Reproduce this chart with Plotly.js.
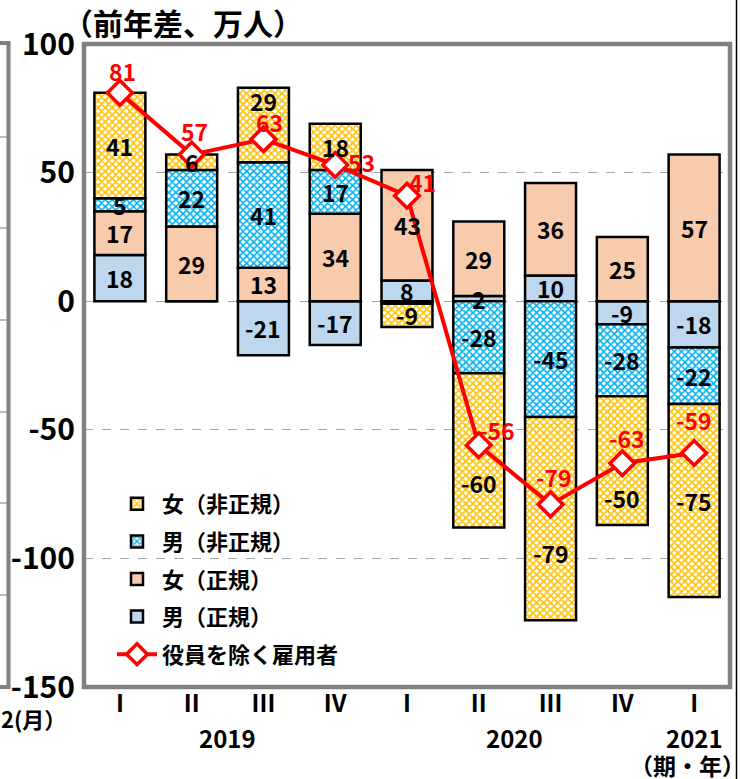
<!DOCTYPE html>
<html>
<head>
<meta charset="utf-8">
<script src="https://cdn.plot.ly/plotly-3.0.1.min.js"></script>
<style>
  html, body { margin: 0; padding: 0; background: #ffffff; }
  #chart { width: 740px; height: 779px; }
</style>
</head>
<body>
<div id="chart"></div>
<script>
// ---- data ----
const quarters = ['I', 'II', 'III', 'IV', 'I', 'II', 'III', 'IV', 'I'];
const yearOf   = ['2019', '2019', '2019', '2019', '2020', '2020', '2020', '2020', '2021'];
const maleRegular      = [18, 0, -21, -17, 8, 2, 10, -9, -18];
const femaleRegular    = [17, 29, 13, 34, 43, 29, 36, 25, 57];
const maleNonRegular   = [5, 22, 41, 17, -1, -28, -45, -28, -22];
const femaleNonRegular = [41, 6, 29, 18, -9, -60, -79, -50, -75];
const employees        = [81, 57, 63, 53, 41, -56, -79, -63, -59];
const yTickVals   = [-150, -100, -50, 0, 50, 100];
const yTickLabels = ['-150', '-100', '-50', '0', '50', '100'];

// ---- style / layout helpers ----
const FONT = "'Noto Sans CJK JP', 'Noto Sans', sans-serif";
const W = 740, H = 779, L = 84, R = 10, T = 44, B = 92;
const PW = W - L - R, PH = H - T - B;
const px = v => (v - L) / PW;
const py = v => (H - B - v) / PH;

// pixel nudges of labels (as in the reference, labels moved off the line)
const barLabelShift = { 3: { 2: 24, 5: -33, 6: -34, 7: -37 } };     // series index -> {point: yshift}
const lineLabelShift = [[3, 22], [3, 24], [6, 17], [26, 3], [15, 14], [18, 15], [3, 27], [5, 25], [0, 33]];

const xs = quarters.map((_, i) => i);
const series = [
  { name: '男（正規）',   vals: maleRegular,      color: '#BDD7EE', rank: 4 },
  { name: '女（正規）',   vals: femaleRegular,    color: '#F8CBAD', rank: 3 },
  { name: '男（非正規）', vals: maleNonRegular,   color: '#FFFFFF', rank: 2, pattern: '#00B0F0' },
  { name: '女（非正規）', vals: femaleNonRegular, color: '#FFFFFF', rank: 1, pattern: '#FFC000' }
];

const traces = series.map(s => {
  const t = {
    type: 'bar', name: s.name, x: xs, y: s.vals, textposition: 'none',
    marker: { color: s.color, line: { color: '#000000', width: 2.5 } },
    legendrank: s.rank, legendgroup: s.name, hoverinfo: 'skip'
  };
  if (s.pattern) {
    t.marker.pattern = { shape: 'x', fgcolor: s.pattern, bgcolor: '#FFFFFF', size: 5, solidity: 0.55, fillmode: 'replace' };
  }
  return t;
});
traces.push({
  type: 'scatter', mode: 'lines+markers', name: '役員を除く雇用者',
  x: xs, y: employees,
  line: { color: '#FF0000', width: 4 },
  marker: { symbol: 'diamond', size: 19, color: '#FFFFFF', line: { color: '#FF0000', width: 3.5 } },
  legendrank: 5, legendgroup: 'line', hoverinfo: 'skip', cliponaxis: false
});

const annotations = [];
// bar segment labels at the centre of each stacked segment (relative stacking)
const posBase = xs.map(() => 0), negBase = xs.map(() => 0);
series.forEach((s, si) => {
  s.vals.forEach((v, i) => {
    let c;
    if (v >= 0) { c = posBase[i] + v / 2; posBase[i] += v; }
    else { c = negBase[i] + v / 2; negBase[i] += v; }
    if (Math.abs(v) < 2) return;
    const sh = (barLabelShift[si] && barLabelShift[si][i]) || 0;
    annotations.push({ x: i, xref: 'x', y: c, yref: 'y', text: String(v), showarrow: false,
      xanchor: 'center', yanchor: 'middle', yshift: sh,
      font: { family: FONT, size: 23, color: '#000000', weight: 'bold' } });
  });
});
// line labels
employees.forEach((v, i) => {
  annotations.push({ x: i, xref: 'x', y: v, yref: 'y', text: String(v), showarrow: false,
    xanchor: 'center', yanchor: 'middle', xshift: lineLabelShift[i][0], yshift: lineLabelShift[i][1],
    font: { family: FONT, size: 23, color: '#FF0000', weight: 'bold' } });
});
// year labels centred on their quarters
[...new Set(yearOf)].forEach(yr => {
  const idx = xs.filter(i => yearOf[i] === yr);
  const c = idx.reduce((a, b) => a + b, 0) / idx.length;
  annotations.push({ x: c, xref: 'x', y: py(737), yref: 'paper', text: yr, showarrow: false,
    xanchor: 'center', yanchor: 'middle', font: { family: FONT, size: 24, color: '#000000', weight: 'bold' } });
});
annotations.push({ x: px(687), xref: 'paper', y: py(765), yref: 'paper', text: '（期・年）',
  showarrow: false, xanchor: 'center', yanchor: 'middle', font: { family: FONT, size: 23, color: '#000000', weight: 'bold' } });
annotations.push({ x: px(68), xref: 'paper', y: py(718), yref: 'paper', text: '2(月）',
  showarrow: false, xanchor: 'right', yanchor: 'middle', font: { family: FONT, size: 22, color: '#000000', weight: 'bold' } });

const gray = '#808080';
const shapes = [
  { type: 'rect', xref: 'paper', yref: 'paper', x0: 0, x1: 1, y0: 0, y1: 1,
    line: { color: gray, width: 4.5 }, layer: 'above' },
  // remnant of the neighbouring chart on the left
  { type: 'line', xref: 'paper', yref: 'paper', x0: px(8.5), x1: px(8.5), y0: py(43), y1: py(687),
    line: { color: gray, width: 4 } },
  { type: 'line', xref: 'paper', yref: 'paper', x0: px(-5), x1: px(10.5), y0: py(43), y1: py(43),
    line: { color: gray, width: 4 } },
  { type: 'line', xref: 'paper', yref: 'paper', x0: px(-5), x1: px(10.5), y0: py(687), y1: py(687),
    line: { color: gray, width: 4 } },
  // right edge black line
  { type: 'line', xref: 'paper', yref: 'paper', x0: px(736.5), x1: px(736.5), y0: py(0), y1: py(779),
    line: { color: '#000000', width: 1.5 } }
];
[137, 228, 320, 412, 503, 595].forEach(v => shapes.push({
  type: 'line', xref: 'paper', yref: 'paper', x0: px(-2), x1: px(7), y0: py(v), y1: py(v),
  line: { color: '#A6A6A6', width: 1.5 }
}));

const layout = {
  width: W, height: H,
  margin: { l: L, r: R, t: T, b: B, pad: 0 },
  paper_bgcolor: '#FFFFFF', plot_bgcolor: '#FFFFFF',
  barmode: 'relative', bargap: 0.29,
  showlegend: true,
  title: { text: '（前年差、万人）', x: 63 / W, xanchor: 'left', y: 1 - 24 / H, yanchor: 'middle',
           font: { family: FONT, size: 30, color: '#000000', weight: 'bold' } },
  legend: {
    x: px(112), xanchor: 'left', y: py(483), yanchor: 'top',
    bgcolor: 'rgba(0,0,0,0)', borderwidth: 0,
    font: { family: FONT, size: 22, color: '#000000', weight: 'bold' },
    traceorder: 'grouped', tracegroupgap: 6, itemwidth: 40
  },
  xaxis: {
    range: [-0.5, 8.5], tickmode: 'array', tickvals: xs, ticktext: quarters,
    showgrid: false, zeroline: false, showline: false, ticks: '',
    tickfont: { family: FONT, size: 24, color: '#000000', weight: 'bold' }, fixedrange: true
  },
  yaxis: {
    range: [-150, 100], tickmode: 'array', tickvals: yTickVals, ticktext: yTickLabels,
    showgrid: true, gridcolor: '#A6A6A6', griddash: 'dash', gridwidth: 1,
    zeroline: false, showline: false, ticks: '', ticklabelstandoff: 8,
    tickfont: { family: FONT, size: 30, color: '#000000', weight: 'bold' }, fixedrange: true
  },
  annotations: annotations,
  shapes: shapes
};

Plotly.newPlot('chart', traces, layout, { displayModeBar: false, staticPlot: true });
</script>
</body>
</html>
